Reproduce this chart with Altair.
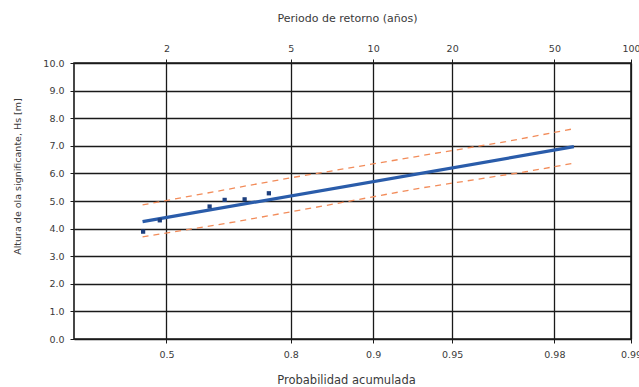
import numpy as np
import pandas as pd
import altair as alt

# Probability ticks (bottom) and return periods (top)
prob_ticks = [0.5, 0.8, 0.9, 0.95, 0.98, 0.99]
prob_labels = ["0.5", "0.8", "0.9", "0.95", "0.98", "0.99"]
period_labels = ["2", "5", "10", "20", "50", "100"]
y_ticks = [0, 1, 2, 3, 4, 5, 6, 7, 8, 9, 10]

# Gumbel reduced variate positions of the ticks
tick_pos = [float(-np.log(-np.log(p))) for p in prob_ticks]
x_min = float(-np.log(-np.log(0.2)))
x_max = tick_pos[-1]

# Observations (reduced variate, Hs)
obs_x = [0.154, 0.306, 0.76, 0.897, 1.079, 1.30]
obs_y = [3.89, 4.30, 4.80, 5.04, 5.06, 5.28]

# Fitted Gumbel line
fit_x = [0.149, 4.08]
fit_y = [4.25, 6.97]

# Confidence bands
up_x = [0.149, 1.47, 2.185, 2.82, 3.46, 4.08]
up_y = [4.86, 5.82, 6.30, 6.73, 7.15, 7.62]
lo_x = [0.149, 1.0, 1.85, 2.67, 3.64, 4.08]
lo_y = [3.70, 4.25, 4.86, 5.46, 6.06, 6.37]

obs = pd.DataFrame({"x": obs_x, "y": obs_y})
fit = pd.DataFrame({"x": fit_x, "y": fit_y})
band = pd.concat([
    pd.DataFrame({"x": up_x, "y": up_y, "s": "up"}),
    pd.DataFrame({"x": lo_x, "y": lo_y, "s": "lo"}),
])


def label_expr(labels):
    expr = "''"
    for pos, lab in reversed(list(zip(tick_pos, labels))):
        expr = f"abs(datum.value - {pos:.6f}) < 0.01 ? '{lab}' : {expr}"
    return expr


font = "DejaVu Sans"
txt = "#3a3a3a"
grid_c = "#1a1a1a"
xscale = alt.Scale(domain=[x_min, x_max], nice=False, zero=False)
yscale = alt.Scale(domain=[0, 10], nice=False)

x_bottom = alt.X(
    "x:Q", scale=xscale,
    axis=alt.Axis(
        orient="bottom", values=tick_pos, labelExpr=label_expr(prob_labels),
        title="Probabilidad acumulada", grid=True, gridColor=grid_c,
        gridWidth=1.3, gridOpacity=1, domain=False, tickColor=grid_c, tickSize=4,
        labelFont=font, labelFontSize=9.5, labelColor=txt, labelPadding=6,
        labelFlush=False, titleFont=font, titleFontSize=11.5,
        titleFontWeight="normal", titleColor=txt, titleX=272, titleY=41,
        titleAlign="center", titleBaseline="middle",
    ),
)
x_top = alt.X(
    "x:Q", scale=xscale,
    axis=alt.Axis(
        orient="top", values=tick_pos, labelExpr=label_expr(period_labels),
        title="Periodo de retorno (años)", grid=False, domain=False,
        tickColor=grid_c, tickSize=4,
        labelFont=font, labelFontSize=9.5, labelColor=txt, labelPadding=6,
        labelFlush=False, titleFont=font, titleFontSize=11,
        titleFontWeight="normal", titleColor=txt, titleX=273, titleY=-45,
        titleAlign="center", titleBaseline="middle",
    ),
)
y_enc = alt.Y(
    "y:Q", scale=yscale,
    axis=alt.Axis(
        values=y_ticks, format=".1f", title="Altura de ola significante, Hs [m]",
        grid=True, gridColor=grid_c, gridWidth=1.3, gridOpacity=1, domain=False,
        tickColor=grid_c, tickSize=4, labelFont=font, labelFontSize=9.5,
        labelColor=txt, labelPadding=6, titleFont=font, titleFontSize=9.5,
        titleFontWeight="normal", titleColor=txt, titleX=-57, titleY=113,
        titleAlign="center", titleBaseline="middle",
    ),
)

band_layer = alt.Chart(band).mark_line(
    color="#f28c5a", strokeWidth=1.3, strokeDash=[6, 5]
).encode(x=x_bottom, y=y_enc, detail="s:N")

fit_layer = alt.Chart(fit).mark_line(color="#2a5caa", strokeWidth=3.2).encode(
    x=x_top, y=y_enc
)

obs_layer = alt.Chart(obs).mark_point(
    shape="square", filled=True, color="#1d3f7e", size=18, opacity=1
).encode(x=alt.X("x:Q", scale=xscale, axis=None), y=y_enc)

chart = (
    alt.layer(band_layer, fit_layer, obs_layer)
    .resolve_axis(x="independent")
    .properties(
        width=557, height=276,
        padding={"left": 74, "top": 63, "right": 8, "bottom": 48},
        autosize=alt.AutoSizeParams(type="none"),
        background="white",
    )
    .configure_view(stroke=grid_c, strokeWidth=1.6)
)

chart.save("out.html", embed_options={"renderer": "svg", "actions": False})
